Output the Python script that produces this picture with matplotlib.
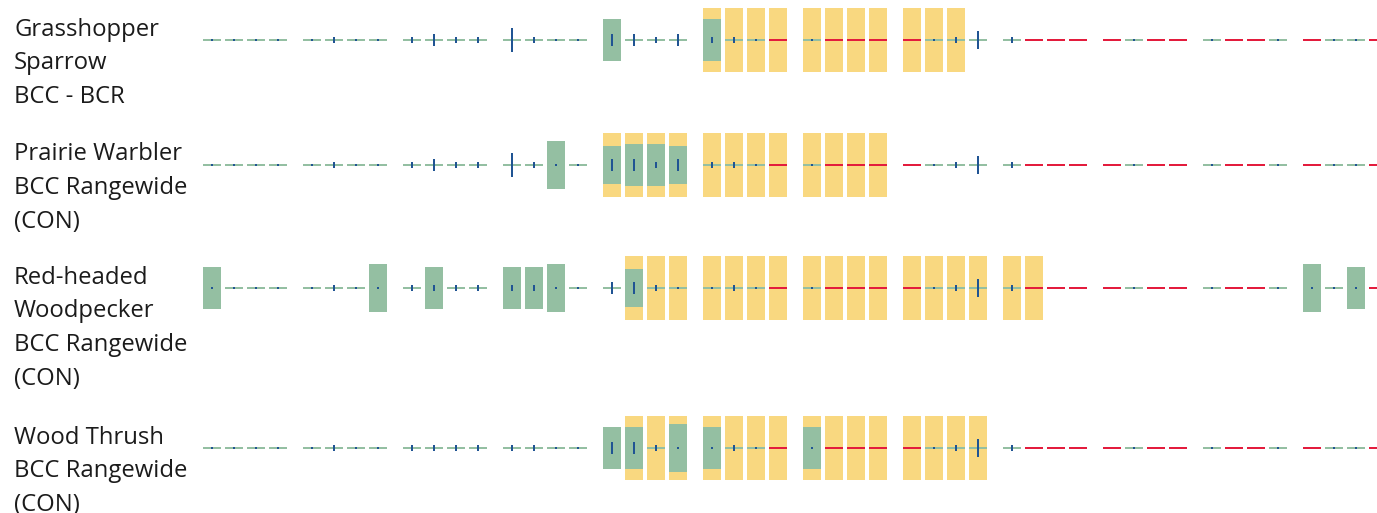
import matplotlib
matplotlib.use("Agg")
import matplotlib.pyplot as plt
from matplotlib.patches import Rectangle

# ---------------- data ----------------
species = [
    ["Grasshopper", "Sparrow", "BCC - BCR"],
    ["Prairie Warbler", "BCC Rangewide", "(CON)"],
    ["Red-headed", "Woodpecker", "BCC Rangewide", "(CON)"],
    ["Wood Thrush", "BCC Rangewide", "(CON)"],
]

# probability of presence (bar height as fraction of full cell), 48 weeks
presence_gs = {16: 0.66, 20: 0.66}
presence_pw = {14: 0.75, 16: 0.59, 17: 0.66, 18: 0.66, 19: 0.59}
presence_rw = {0: 0.66, 7: 0.75, 9: 0.66, 12: 0.66, 13: 0.66, 14: 0.75,
               17: 0.59, 44: 0.75, 46: 0.66}
presence_wt = {16: 0.66, 17: 0.66, 19: 0.75, 20: 0.66, 24: 0.66}

# survey effort level per week (0 = no data)
effort_gs = [1, 1, 1, 1, 1, 3, 1, 1, 3, 6, 3, 3, 12, 3, 1, 1,
             6, 6, 3, 6, 3, 3, 1, 0, 1, 0, 0, 0, 0, 1, 3, 9,
             3, 0, 0, 0, 0, 1, 0, 0, 1, 0, 0, 1, 0, 1, 1, 0]
effort_pw = [1, 1, 1, 1, 1, 3, 1, 1, 3, 6, 3, 3, 12, 3, 1, 1,
             6, 6, 3, 6, 3, 3, 1, 0, 1, 0, 0, 0, 0, 1, 3, 9,
             3, 0, 0, 0, 0, 1, 0, 0, 1, 0, 0, 1, 0, 1, 1, 0]
effort_rw = [1, 1, 1, 1, 1, 3, 1, 1, 3, 3, 3, 3, 3, 3, 1, 1,
             6, 6, 3, 1, 1, 3, 1, 0, 1, 0, 0, 0, 0, 1, 3, 9,
             3, 0, 0, 0, 0, 1, 0, 0, 1, 0, 0, 1, 1, 1, 1, 0]
effort_wt = [1, 1, 1, 1, 1, 3, 1, 1, 3, 3, 3, 3, 3, 3, 1, 1,
             6, 6, 3, 1, 1, 3, 1, 0, 1, 0, 0, 0, 0, 1, 3, 9,
             3, 0, 0, 0, 0, 1, 0, 0, 1, 0, 0, 1, 0, 1, 1, 0]

# breeding season (first week, last week inclusive)
breeding_gs = (20, 30)
breeding_pw = (16, 27)
breeding_rw = (17, 33)
breeding_wt = (17, 31)

presence = [presence_gs, presence_pw, presence_rw, presence_wt]
effort = [effort_gs, effort_pw, effort_rw, effort_wt]
breeding = [breeding_gs, breeding_pw, breeding_rw, breeding_wt]

# ---------------- style / layout ----------------
GREEN = "#94bfa2"
YELLOW = "#f9d880"
RED = "#e31c3d"
BLUE = "#205493"
TEXT = "#1b1b1b"

W, H = 1377, 513
fig = plt.figure(figsize=(W / 100, H / 100), dpi=100)
ax = fig.add_axes([0, 0, 1, 1])
ax.set_xlim(0, W)
ax.set_ylim(H, 0)
ax.axis("off")

x_start = 203
month_step = 100
week_step = 22
cell_w = 18
cell_h = 64
row_centers = [40, 165, 288, 448]
line_h = 2
effort_px = 2
text_x = 14
text_step = 33.7

def rect(x, y, w, h, c, z):
    ax.add_patch(Rectangle((x, y), w, h, facecolor=c, edgecolor="none",
                           linewidth=0, zorder=z, antialiased=False))

for r in range(len(species)):
    cy = row_centers[r]
    b0, b1 = breeding[r]
    for i in range(48):
        x = x_start + (i // 4) * month_step + (i % 4) * week_step
        if b0 <= i <= b1:
            rect(x, cy - cell_h / 2, cell_w, cell_h, YELLOW, 1)
        e = effort[r][i]
        rect(x, cy - line_h / 2, cell_w, line_h, GREEN if e > 0 else RED, 2)
        p = presence[r].get(i, 0)
        if p > 0:
            ph = round(p * cell_h / 2) * 2
            rect(x, cy - ph / 2, cell_w, ph, GREEN, 3)
        if e > 0:
            eh = e * effort_px
            rect(x + cell_w / 2 - 1, cy - eh / 2, 2, eh, BLUE, 4)
    for k, line in enumerate(species[r]):
        ax.text(text_x, cy - 4.5 + k * text_step, line, fontsize=17.2,
                family="Open Sans", color=TEXT, va="baseline", ha="left")

fig.savefig("out.png", dpi=100)
